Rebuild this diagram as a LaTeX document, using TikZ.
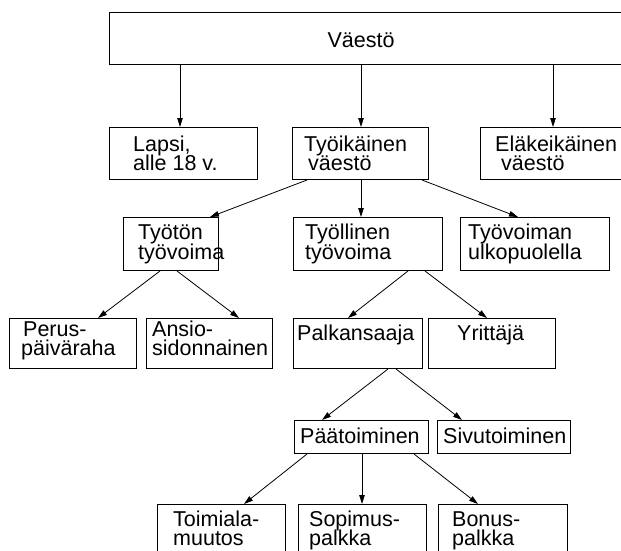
\documentclass[tikz,border=0pt]{standalone}
\usepackage{fontspec}
\setmainfont{Liberation Sans}
\usetikzlibrary{arrows.meta,calc}
\begin{document}
\begin{tikzpicture}[x=1pt,y=-1pt,
  box/.style={draw=black,line width=1pt,rectangle,inner sep=0pt,anchor=north west},
  txt/.style={anchor=base west,inner sep=0pt,font=\fontsize{21.5}{16}\selectfont},
  ctxt/.style={anchor=base,inner sep=0pt,font=\fontsize{21.5}{16}\selectfont},
  arr/.style={line width=0.8pt,-{Triangle[length=9pt,width=5.5pt]}}]
\useasboundingbox (0,0) rectangle (621,551);
\clip (0,0) rectangle (621,551);
% boxes
\node[box,minimum width=531pt,minimum height=52pt] (vaesto) at (109,12) {};
\node[box,minimum width=148pt,minimum height=52pt] (lapsi) at (109,127) {};
\node[box,minimum width=136pt,minimum height=52pt] (tyoik) at (292,127) {};
\node[box,minimum width=160pt,minimum height=52pt] (elake) at (480,127) {};
\node[box,minimum width=95pt,minimum height=53pt] (tyoton) at (123,217) {};
\node[box,minimum width=149pt,minimum height=53pt] (tyoll) at (293,217) {};
\node[box,minimum width=149pt,minimum height=53pt] (ulko) at (460,217) {};
\node[box,minimum width=127pt,minimum height=50pt] (perus) at (9,318) {};
\node[box,minimum width=126pt,minimum height=50pt] (ansio) at (146,318) {};
\node[box,minimum width=129pt,minimum height=50pt] (palk) at (293,318) {};
\node[box,minimum width=127pt,minimum height=50pt] (yritt) at (428,318) {};
\node[box,minimum width=134pt,minimum height=33pt] (paa) at (294,420) {};
\node[box,minimum width=133pt,minimum height=33pt] (sivu) at (437,420) {};
\node[box,minimum width=128pt,minimum height=80pt] (toimi) at (157,504) {};
\node[box,minimum width=128pt,minimum height=80pt] (sopim) at (298,504) {};
\node[box,minimum width=129pt,minimum height=80pt] (bonus) at (438,504) {};
% texts
\node[ctxt] (tvaesto) at (361,48) {Väestö};
\node[txt] (tlapsi1) at (133,151) {Lapsi,};
\node[txt] (tlapsi2) at (133,170) {alle 18 v.};
\node[txt] (ttyoik1) at (304,151) {Työikäinen};
\node[txt] (ttyoik2) at (308,170) {väestö};
\node[txt] (telake1) at (495,151) {Eläkeikäinen};
\node[txt] (telake2) at (501,170) {väestö};
\node[txt] (ttyoton1) at (138,239) {Työtön};
\node[txt] (ttyoton2) at (138,259) {työvoima};
\node[txt] (ttyoll1) at (305,239) {Työllinen};
\node[txt] (ttyoll2) at (305,259) {työvoima};
\node[txt] (tulko1) at (468,239) {Työvoiman};
\node[txt] (tulko2) at (468,259) {ulkopuolella};
\node[txt] (tperus1) at (23,336) {Perus-};
\node[txt] (tperus2) at (21,355) {päiväraha};
\node[txt] (tansio1) at (152,336) {Ansio-};
\node[txt] (tansio2) at (152,355) {sidonnainen};
\node[txt] (tpalk) at (297,340) {Palkansaaja};
\node[txt] (tyritt) at (457,340) {Yrittäjä};
\node[txt] (tpaa) at (300,443) {Päätoiminen};
\node[txt] (tsivu) at (443,443) {Sivutoiminen};
\node[txt] (ttoimi1) at (173,526) {Toimiala-};
\node[txt] (ttoimi2) at (173,545) {muutos};
\node[txt] (tsopim1) at (309,526) {Sopimus-};
\node[txt] (tsopim2) at (309,545) {palkka};
\node[txt] (tbonus1) at (452,526) {Bonus-};
\node[txt] (tbonus2) at (452,545) {palkka};
% connectors
\draw[arr] ($(vaesto.south west)+(71,0)$) -- ($(lapsi.north west)+(71,0)$);
\draw[arr] ($(vaesto.south west)+(252,0)$) -- ($(tyoik.north west)+(69,0)$);
\draw[arr] ($(vaesto.south west)+(444,0)$) -- ($(elake.north west)+(73,0)$);
\draw[arr] ($(tyoik.south west)+(15,0)$) -- ($(tyoton.north west)+(87,0)$);
\draw[arr] ($(tyoik.south west)+(69,0)$) -- ($(tyoll.north west)+(68,0)$);
\draw[arr] ($(tyoik.south west)+(130,0)$) -- ($(ulko.north west)+(58,0)$);
\draw[arr] ($(tyoton.south west)+(37,0)$) -- ($(perus.north west)+(89,0)$);
\draw[arr] ($(tyoton.south west)+(54,0)$) -- ($(ansio.north west)+(93,0)$);
\draw[arr] ($(tyoll.south west)+(115,0)$) -- ($(palk.north west)+(55,0)$);
\draw[arr] ($(tyoll.south west)+(132,0)$) -- ($(yritt.north west)+(59,0)$);
\draw[arr] ($(palk.south west)+(95,0)$) -- ($(paa.north west)+(28,0)$);
\draw[arr] ($(palk.south west)+(103,0)$) -- ($(sivu.north west)+(25,0)$);
\draw[arr] ($(paa.south west)+(13,0)$) -- ($(toimi.north west)+(87,0)$);
\draw[arr] ($(paa.south west)+(68,0)$) -- ($(sopim.north west)+(64,0)$);
\draw[arr] ($(paa.south west)+(120,0)$) -- ($(bonus.north west)+(40,0)$);
\end{tikzpicture}
\end{document}
